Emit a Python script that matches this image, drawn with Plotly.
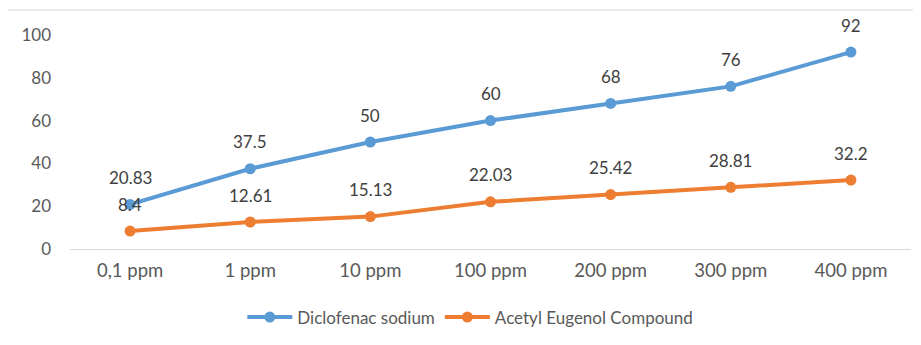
import plotly.graph_objects as go

categories = ["0,1 ppm", "1 ppm", "10 ppm", "100 ppm", "200 ppm", "300 ppm", "400 ppm"]
diclofenac = [20.83, 37.5, 50, 60, 68, 76, 92]
acetyl = [8.4, 12.61, 15.13, 22.03, 25.42, 28.81, 32.2]
y_ticks = [0, 20, 40, 60, 80, 100]

BLUE = "#5B9BD5"
ORANGE = "#ED7D31"
FONT = "Lato, Carlito, Calibri, sans-serif"

fig = go.Figure()
fig.add_trace(go.Scatter(x=categories, y=diclofenac, name="Diclofenac sodium",
                         mode="lines+markers", line=dict(color=BLUE, width=4),
                         marker=dict(size=11, color=BLUE)))
fig.add_trace(go.Scatter(x=categories, y=acetyl, name="Acetyl Eugenol Compound",
                         mode="lines+markers", line=dict(color=ORANGE, width=4),
                         marker=dict(size=11, color=ORANGE)))

annotations = []
for series in (diclofenac, acetyl):
    for c, v in zip(categories, series):
        annotations.append(dict(x=c, y=v, text=str(v), showarrow=False,
                                yshift=27, font=dict(size=17, color="#404040", family=FONT)))

fig.update_layout(
    width=921, height=345,
    margin=dict(l=62, r=18, t=27, b=104, autoexpand=False),
    paper_bgcolor="white", plot_bgcolor="white",
    font=dict(family=FONT, size=17, color="#595959"),
    xaxis=dict(type="category", range=[-0.5, 6.5], showgrid=False, showline=True,
               linecolor="#D9D9D9", linewidth=1, ticks="", ticklabelstandoff=5,
               tickfont=dict(size=18.5, color="#595959"), zeroline=False),
    yaxis=dict(range=[0, 100], tickvals=y_ticks, showgrid=False, showline=False,
               zeroline=False, ticks="", ticklabelstandoff=18,
               tickfont=dict(size=17, color="#595959")),
    legend=dict(orientation="h", x=0.476, xanchor="center", y=-0.32, yanchor="middle",
                font=dict(size=17, color="#595959"), itemwidth=45, tracegroupgap=0),
    annotations=annotations,
    shapes=[dict(type="rect", xref="paper", yref="paper",
                 x0=(7 - 70) / 841, x1=(940 - 70) / 841,
                 y0=(249 - 350) / 214, y1=(249 - 10) / 214,
                 line=dict(color="#D9D9D9", width=1), layer="below")],
    showlegend=True,
)

fig.write_html("out.html")
